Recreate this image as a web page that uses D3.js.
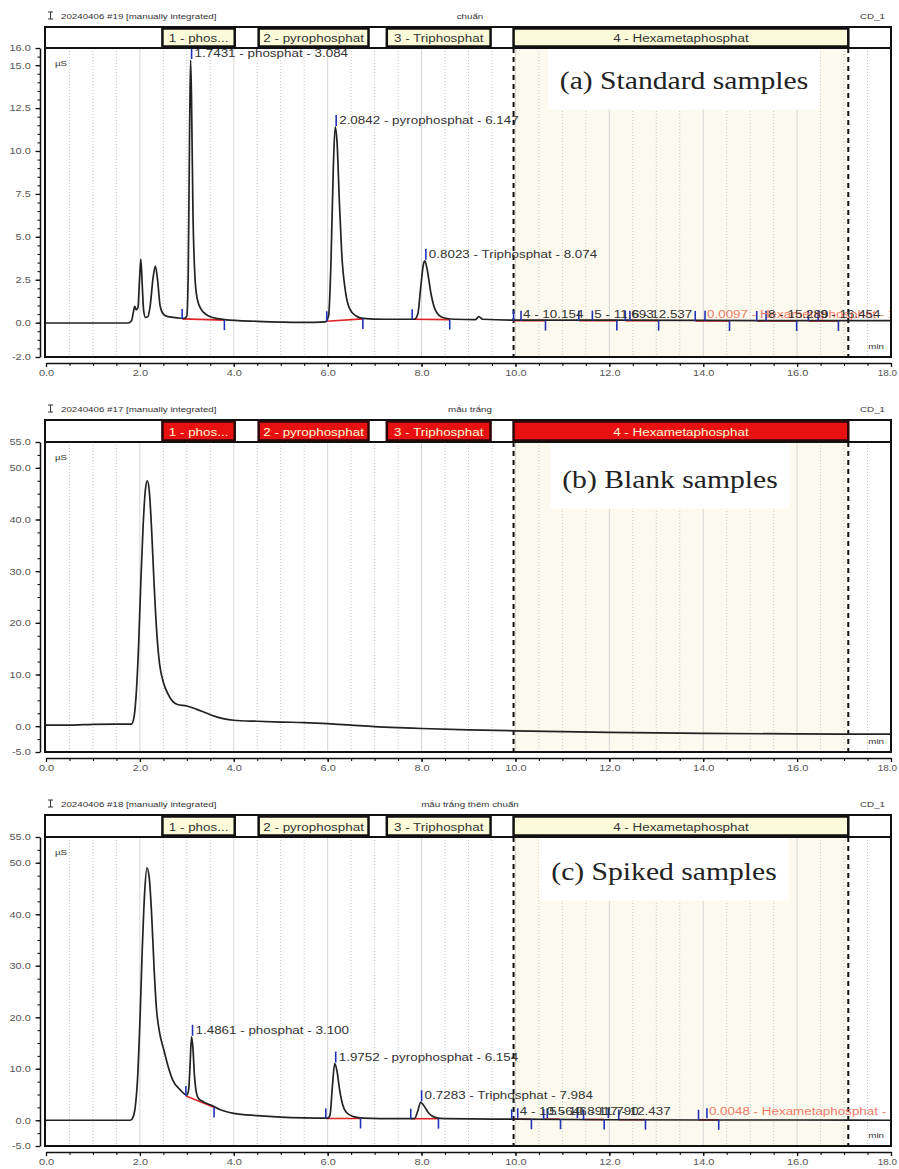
<!DOCTYPE html>
<html>
<head>
<meta charset="utf-8">
<script src="https://cdn.jsdelivr.net/npm/d3@7"></script>
<style>
  body { margin: 0; background: #fff; }
  svg { display: block; }
  text { font-family: "Liberation Sans", Arial, sans-serif; }
</style>
</head>
<body>
<div id="chart"></div>
<script>
// ---------- data (time in min, conductivity in µS) ----------
const traceA = [[0,-0.02],[1.0,-0.02],[1.75,-0.02],[1.82,0.1],[1.86,0.6],[1.89,0.95],[1.92,0.75],[1.96,0.9],
  [1.99,2.4],[2.02,3.7],[2.05,2.2],[2.08,0.7],[2.12,0.3],[2.17,0.35],[2.22,1.0],[2.28,2.6],[2.33,3.3],
  [2.38,2.4],[2.43,1.0],[2.5,0.5],[2.6,0.35],[2.8,0.28],[2.95,0.25],[3.0,0.4],[3.03,3.0],[3.06,11.5],
  [3.08,15.3],[3.1,13.0],[3.13,6.5],[3.17,2.8],[3.22,1.4],[3.3,0.8],[3.4,0.5],[3.55,0.3],[3.8,0.18],
  [4.5,0.08],[5.5,0.02],[5.95,0.05],[6.02,0.4],[6.07,3.5],[6.12,9.0],[6.16,11.4],[6.2,10.5],[6.25,7.0],
  [6.3,4.0],[6.38,1.8],[6.47,0.8],[6.6,0.4],[6.75,0.25],[7.2,0.2],[7.85,0.2],[7.92,0.5],[7.98,2.0],
  [8.04,3.4],[8.07,3.6],[8.12,3.1],[8.2,1.7],[8.3,0.7],[8.45,0.3],[8.7,0.2],[9.15,0.18],[9.22,0.35],
  [9.3,0.2],[10,0.15],[12,0.15],[14,0.13],[16,0.12],[18,0.12]];

const traceB = [[0,0.2],[0.5,0.2],[1.0,0.35],[1.5,0.4],[1.82,0.4],[1.87,1.5],[1.92,6],[1.97,15],[2.02,28],
  [2.07,39],[2.12,46],[2.16,47.5],[2.2,45.5],[2.25,38],[2.3,28],[2.36,18],[2.42,12],[2.5,8.5],[2.6,6.2],
  [2.7,4.8],[2.8,4.2],[3.0,3.9],[3.2,3.3],[3.4,2.6],[3.6,1.9],[3.8,1.4],[4.0,1.15],[4.5,0.95],[5.0,0.8],
  [5.5,0.7],[6.0,0.5],[6.5,0.2],[7.0,-0.1],[7.5,-0.3],[8.0,-0.45],[9.0,-0.7],[10.0,-0.9],[12,-1.2],
  [14,-1.4],[16,-1.5],[18,-1.55]];

const traceC = [[0,0],[1.0,0],[1.8,0],[1.85,0.5],[1.9,2.5],[1.95,8],[2.0,19],[2.05,33],[2.1,44],[2.15,49],
  [2.2,47],[2.25,40],[2.3,30],[2.35,22],[2.42,17],[2.5,14],[2.6,10.5],[2.7,7.8],[2.85,6.0],[3.0,4.9],
  [3.04,6],[3.07,11],[3.1,16.2],[3.13,14],[3.16,9],[3.2,5.5],[3.25,4.2],[3.35,3.6],[3.5,3.0],[3.7,2.1],
  [4.0,1.35],[4.5,0.9],[5.0,0.6],[5.5,0.45],[6.0,0.4],[6.05,1.0],[6.1,6.5],[6.15,11],[6.2,9.5],[6.25,6.2],
  [6.32,3.0],[6.4,1.5],[6.55,0.7],[6.75,0.4],[7.5,0.3],[7.85,0.3],[7.92,1.8],[7.98,3.5],[8.05,2.8],
  [8.15,1.4],[8.3,0.5],[8.5,0.3],[10,0.2],[12,0.1],[14,0.05],[16,0.05],[18,0]];

// integration windows (header band)
const windowNames  = ["1 - phos...", "2 - pyrophosphat", "3 - Triphosphat", "4 - Hexametaphosphat"];
const windowStarts = [2.48, 4.53, 7.26, 9.96];
const windowEnds   = [4.02, 6.87, 9.47, 17.09];

// tick labels
const xTicks  = [0, 2, 4, 6, 8, 10, 12, 14, 16, 18];
const yTicksA = [-2, 0, 2.5, 5, 7.5, 10, 12.5, 15, 16];
const yTicksBC = [-5, 0, 10, 20, 30, 40, 50, 55];

// integration baselines: [start, end, value at start, value at end]
const baselinesA = [[2.9,3.8,0.22,0.15],[5.98,6.75,0.08,0.22],[7.8,8.6,0.2,0.18],[9.96,10.64,0.12,0.12],
  [11.35,12.16,0.12,0.12],[12.34,13.05,0.12,0.12],[13.83,14.56,0.1,0.1],[15.14,15.99,0.1,0.1],[16.24,16.88,0.1,0.1]];
const baselinesC = [[2.98,3.58,4.7,2.5],[5.96,6.7,0.35,0.35],[7.77,8.36,0.3,0.3],[9.92,10.34,0.2,0.2],
  [10.6,10.96,0.2,0.2],[11.45,11.89,0.15,0.15],[12.2,12.77,0.12,0.12],[13.9,14.33,0.08,0.08]];

// named peaks: [retention time, height, label]
const peaksA = [[3.08,15.3,"1.7431 - phosphat - 3.084"],[6.16,11.4,"2.0842 - pyrophosphat - 6.147"],[8.07,3.6,"0.8023 - Triphosphat - 8.074"]];
const peaksC = [[3.1,16.2,"1.4861 - phosphat - 3.100"],[6.15,11.0,"1.9752 - pyrophosphat - 6.154"],[7.98,3.5,"0.7283 - Triphosphat - 7.984"]];

// small peaks labelled along the baseline: [time, label, isGroupPeak]
const smallA = [[14.06,"0.0097 - Hexametaphosphat - 14.062",true],[10.14,"4 - 10.154",false],[11.66,"5 - 11.693",false],
  [12.46,"6 - 12.537",false],[15.36,"8 - 15.289",false],[16.47,"9 - 16.454",false]];
const smallC = [[14.1,"0.0048 - Hexametaphosphat - 14.112",true],[10.07,"4 - 10.564",false],[10.7,"5 - 10.891",false],
  [11.34,"6 - 11.790",false],[12.0,"7 - 12.437",false]];

// ---------- drawing ----------
const W = 899, H = 1169;
const frameL = 45, frameR = 891;
const STRETCH = 1.22;
const svg = d3.select("#chart").append("svg").attr("width", W).attr("height", H);

const x = d3.scaleLinear().domain([0, 18]).range([46, 891]);

function label(parent, px, py, str, size, anchor, fill, family) {
  return parent.append("text")
    .attr("transform", `translate(${px},${py}) scale(${STRETCH},1)`)
    .attr("text-anchor", anchor)
    .style("font-size", size + "px")
    .style("fill", fill)
    .style("font-family", family || null)
    .text(str);
}

const panels = [
  { key: "a", title: "20240406 #19 [manually integrated]", sample: "chuẩn", trace: traceA,
    yDomain: [-2, 16], yTicks: yTicksA, yMinor: 0.5, headerTop: 27, plotTop: 48, plotBottom: 357,
    red: false, caption: "(a) Standard samples", captionX: 684, captionY: 89,
    baselines: baselinesA, peaks: peaksA, small: smallA },
  { key: "b", title: "20240406 #17 [manually integrated]", sample: "mẫu trắng", trace: traceB,
    yDomain: [-5, 55], yTicks: yTicksBC, yMinor: 2.5, headerTop: 420, plotTop: 442, plotBottom: 752,
    red: true, caption: "(b) Blank samples", captionX: 670, captionY: 488,
    baselines: [], peaks: [], small: [] },
  { key: "c", title: "20240406 #18 [manually integrated]", sample: "mẫu trắng thêm chuẩn", trace: traceC,
    yDomain: [-5, 55], yTicks: yTicksBC, yMinor: 2.5, headerTop: 815, plotTop: 837, plotBottom: 1146,
    red: false, caption: "(c) Spiked samples", captionX: 664, captionY: 880,
    baselines: baselinesC, peaks: peaksC, small: smallC }
];

panels.forEach(drawPanel);

function drawPanel(p) {
  const g = svg.append("g").attr("id", "panel_" + p.key);
  const y = d3.scaleLinear().domain(p.yDomain).range([p.plotBottom, p.plotTop]);

  // top row texts
  const ty = p.headerTop - 8;
  g.append("path")
    .attr("d", `M48,${ty-7}h5M48,${ty}h5M50.5,${ty-7}v7`)
    .attr("stroke", "#333").attr("stroke-width", 1).attr("fill", "none");
  label(g, 61, ty, p.title, 8, "start", "#333");
  label(g, 470, ty, p.sample, 8, "middle", "#333");
  label(g, 885, ty, "CD_1", 8, "end", "#333");

  // header band with integration windows
  g.append("rect")
    .attr("x", frameL).attr("y", p.headerTop)
    .attr("width", frameR - frameL).attr("height", p.plotTop - p.headerTop)
    .attr("fill", "#fff").attr("stroke", "#111").attr("stroke-width", 2);
  const win = g.append("g").selectAll("g")
    .data(windowNames.map((n, i) => ({ name: n, t0: windowStarts[i], t1: windowEnds[i] })))
    .enter().append("g");
  win.append("rect")
    .attr("x", d => x(d.t0)).attr("y", p.headerTop + 1.5)
    .attr("width", d => x(d.t1) - x(d.t0)).attr("height", p.plotTop - p.headerTop - 3)
    .attr("fill", p.red ? "#e81010" : "#fbfbd9")
    .attr("stroke", p.red ? "#2a0808" : "#111").attr("stroke-width", 2.5);
  win.each(function (d) {
    label(d3.select(this), (x(d.t0) + x(d.t1)) / 2, p.plotTop - 6, d.name, 11, "middle",
      p.red ? "#fff6d0" : "#333");
  });

  // plot background + hexametaphosphate window shade
  g.append("rect")
    .attr("x", frameL).attr("y", p.plotTop)
    .attr("width", frameR - frameL).attr("height", p.plotBottom - p.plotTop)
    .attr("fill", "#fff");
  g.append("rect")
    .attr("x", x(windowStarts[3])).attr("y", p.plotTop)
    .attr("width", x(windowEnds[3]) - x(windowStarts[3])).attr("height", p.plotBottom - p.plotTop)
    .attr("fill", "#fcfaee");

  // vertical grid
  const gridVals = d3.range(0.5, 18, 0.5);
  g.append("g").selectAll("line").data(gridVals).enter().append("line")
    .attr("x1", d => x(d)).attr("x2", d => x(d))
    .attr("y1", p.plotTop).attr("y2", p.plotBottom)
    .attr("stroke", d => d % 2 === 0 ? "#d6d6d6" : "#c4c4c4")
    .attr("stroke-width", 1)
    .attr("stroke-dasharray", d => d % 2 === 0 ? null : "1,2");

  // caption with white backing
  const capG = g.append("g");
  const cap = capG.append("text")
    .attr("x", p.captionX).attr("y", p.captionY)
    .attr("text-anchor", "middle")
    .style("font-family", '"Liberation Serif", "Times New Roman", serif')
    .style("font-size", "26px").style("fill", "#222")
    .text(p.caption);
  cap.attr("transform", `translate(${p.captionX},0) scale(1.14,1) translate(${-p.captionX},0)`);
  const bb = cap.node().getBBox();
  const bw = bb.width * 1.14;
  capG.insert("rect", "text")
    .attr("x", p.captionX - bw / 2 - 12).attr("y", p.plotTop + 1)
    .attr("width", bw + 24).attr("height", bb.y + bb.height + 14 - p.plotTop)
    .attr("fill", "#fff");

  // dashed window boundaries
  g.append("g").selectAll("line").data([windowStarts[3], windowEnds[3]]).enter().append("line")
    .attr("x1", d => x(d)).attr("x2", d => x(d))
    .attr("y1", p.plotTop).attr("y2", p.plotBottom)
    .attr("stroke", "#111").attr("stroke-width", 2).attr("stroke-dasharray", "5,4");

  // clip for plot content
  const clipId = "clip_" + p.key;
  g.append("clipPath").attr("id", clipId).append("rect")
    .attr("x", frameL).attr("y", p.plotTop)
    .attr("width", frameR - frameL).attr("height", p.plotBottom - p.plotTop);
  const plot = g.append("g").attr("clip-path", `url(#${clipId})`);

  // integration baselines (red)
  plot.append("g").selectAll("line").data(p.baselines).enter().append("line")
    .attr("x1", d => x(d[0])).attr("x2", d => x(d[1]))
    .attr("y1", d => y(d[2])).attr("y2", d => y(d[3]))
    .attr("stroke", "#e02424").attr("stroke-width", 1.6);

  // signal trace
  const line = d3.line().x(d => x(d[0])).y(d => y(d[1])).curve(d3.curveMonotoneX);
  plot.append("path").datum(p.trace)
    .attr("d", line)
    .attr("fill", "none").attr("stroke", "#222").attr("stroke-width", 1.7);

  // peak start / end delimiters (blue)
  const marks = plot.append("g").attr("stroke", "#2230b8").attr("stroke-width", 1.6);
  marks.selectAll(".st").data(p.baselines).enter().append("line")
    .attr("x1", d => x(d[0])).attr("x2", d => x(d[0]))
    .attr("y1", d => y(d[2])).attr("y2", d => y(d[2]) - 10);
  marks.selectAll(".en").data(p.baselines).enter().append("line")
    .attr("x1", d => x(d[1])).attr("x2", d => x(d[1]))
    .attr("y1", d => y(d[3])).attr("y2", d => y(d[3]) + 10);

  // small baseline peaks labels
  const y0 = y(0);
  p.small.forEach(d => {
    marks.append("line").attr("x1", x(d[0]) - 1).attr("x2", x(d[0]) - 1)
      .attr("y1", y0 - 2).attr("y2", y0 - 12);
    label(plot, x(d[0]) + 1, y0 - 5, d[1], 11, "start", d[2] ? "#f07a66" : "#333");
  });

  // named peaks: apex marker + label
  p.peaks.forEach(d => {
    marks.append("line").attr("x1", x(d[0]) + 1).attr("x2", x(d[0]) + 1)
      .attr("y1", y(d[1]) - 1).attr("y2", y(d[1]) - 12);
    label(plot, x(d[0]) + 4, y(d[1]) - 3, d[2], 11, "start", "#333");
  });

  // unit labels
  label(g, 55, p.plotTop + 18, "µS", 8, "start", "#333");
  label(g, 884, p.plotBottom - 8, "min", 8, "end", "#333");

  // frames
  g.append("rect")
    .attr("x", frameL).attr("y", p.plotTop)
    .attr("width", frameR - frameL).attr("height", p.plotBottom - p.plotTop)
    .attr("fill", "none").attr("stroke", "#111").attr("stroke-width", 2);

  // y axis (outside the frame)
  const yMinor = d3.range(p.yDomain[0], p.yDomain[1] + 0.001, p.yMinor);
  g.append("g").attr("transform", "translate(40,0)")
    .call(d3.axisLeft(y).tickValues(yMinor).tickSize(2.5).tickFormat("").tickSizeOuter(0))
    .call(a => a.select(".domain").attr("stroke", "#111").attr("stroke-width", 1.5));
  const yAx = g.append("g").attr("transform", "translate(40,0)")
    .call(d3.axisLeft(y).tickValues(p.yTicks).tickSize(4.5).tickPadding(3)
      .tickFormat(d => d.toFixed(1)).tickSizeOuter(0));
  yAx.select(".domain").remove();
  yAx.selectAll(".tick line").attr("stroke", "#111").attr("stroke-width", 1.3);
  yAx.selectAll(".tick text").style("font-size", "9px").style("fill", "#555")
    .attr("transform", `scale(${STRETCH},1)`);

  // x axis
  const xAxY = p.plotBottom + 6;
  g.append("g").attr("transform", `translate(0,${xAxY})`)
    .call(d3.axisBottom(x).tickValues(d3.range(0, 18.01, 0.5)).tickSize(3).tickFormat("").tickSizeOuter(0))
    .call(a => a.select(".domain").attr("stroke", "#111").attr("stroke-width", 1.5));
  const xAx = g.append("g").attr("transform", `translate(0,${xAxY})`)
    .call(d3.axisBottom(x).tickValues(xTicks).tickSize(4).tickPadding(3)
      .tickFormat(d => d.toFixed(1)).tickSizeOuter(0));
  xAx.select(".domain").remove();
  xAx.selectAll(".tick line").attr("stroke", "#111").attr("stroke-width", 1.3);
  xAx.selectAll(".tick text").style("font-size", "9px").style("fill", "#555")
    .attr("transform", d => d === 18 ? `translate(-4,0) scale(1.1,1)` : `scale(${STRETCH},1)`);
}
</script>
</body>
</html>
